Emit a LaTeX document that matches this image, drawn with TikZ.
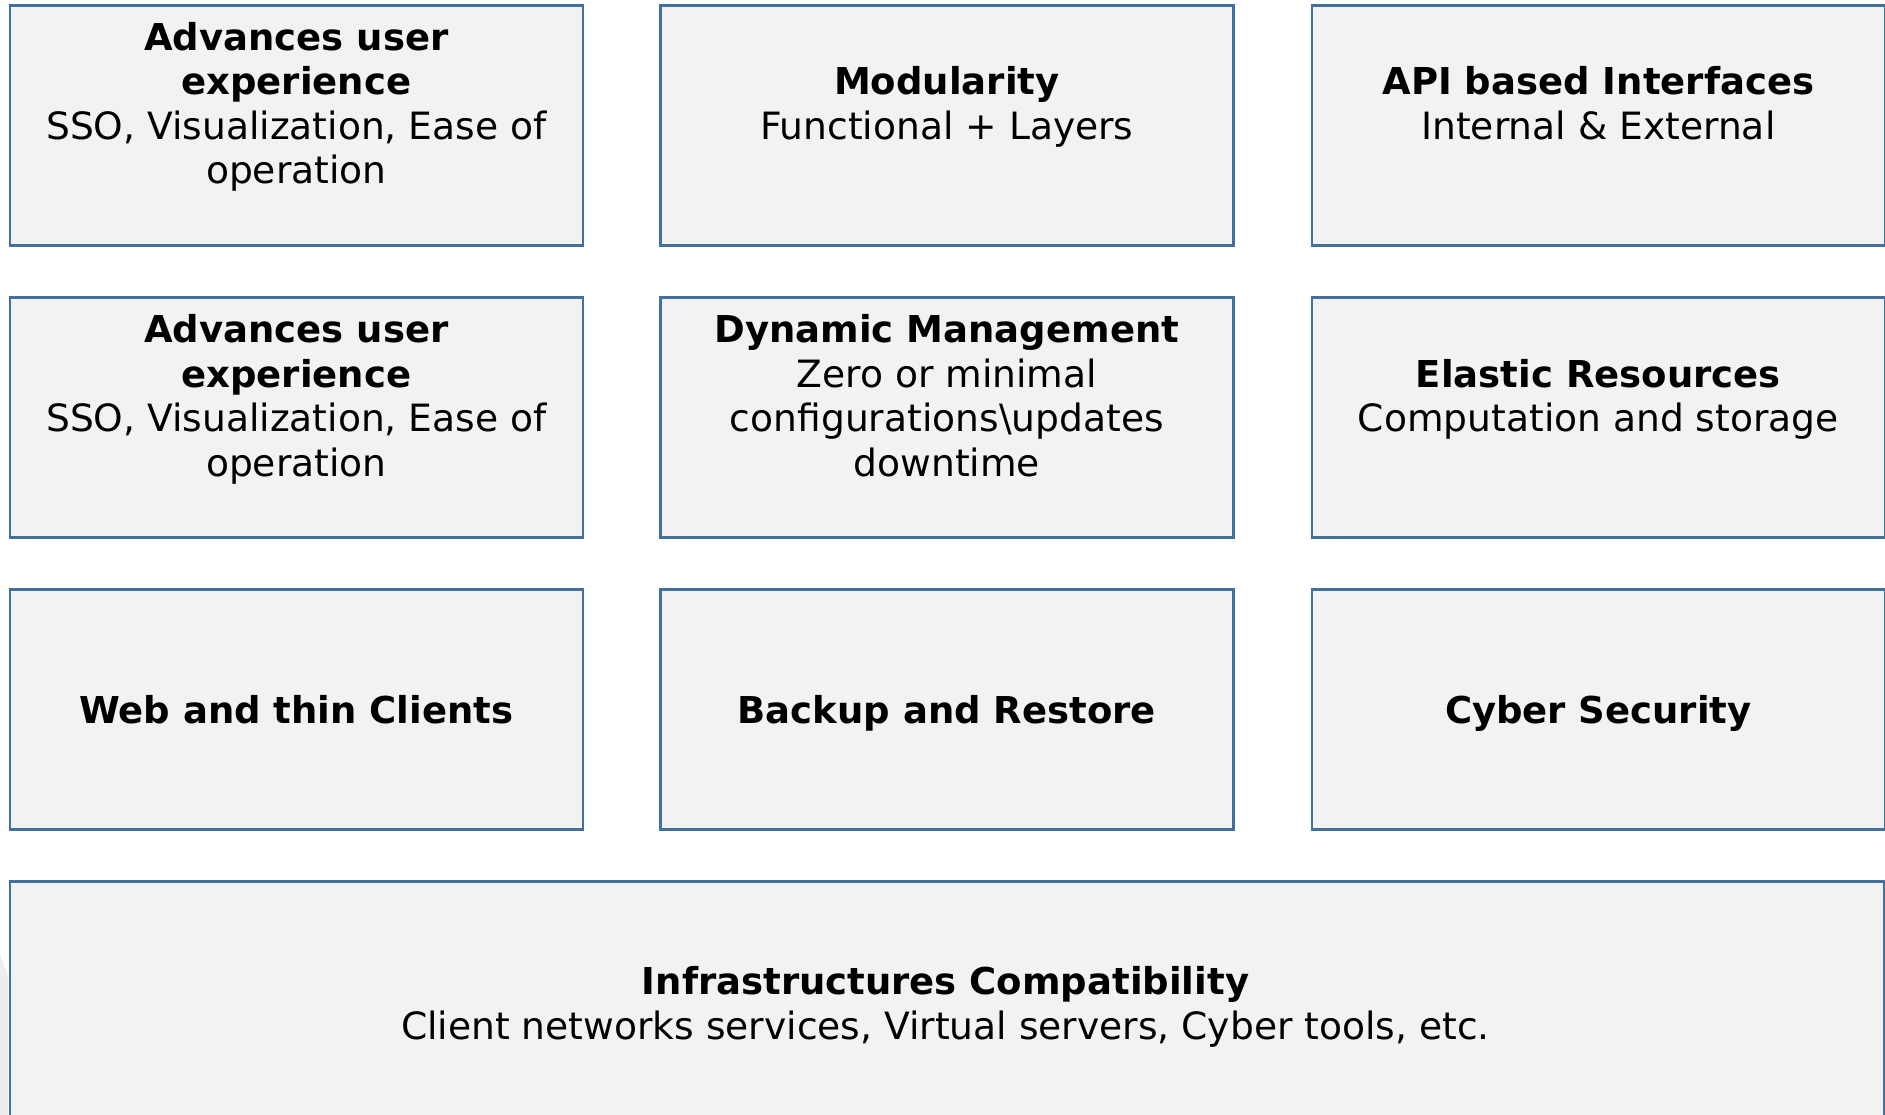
\documentclass[tikz,border=0pt]{standalone}
\usepackage{fontspec}
\setmainfont{DejaVu Sans}
\definecolor{boxblue}{HTML}{41719C}
\definecolor{boxfill}{HTML}{F2F2F2}
\newcommand\hdln[1]{{\fontsize{37}{44.5}\selectfont\bfseries #1\strut}}
\newcommand\rgln[1]{{\fontsize{37.6}{44.5}\selectfont #1\strut}}
\tikzset{
  cell/.style={draw=boxblue, fill=boxfill, line width=2.7pt, minimum width=573pt, minimum height=240pt, inner sep=0pt, anchor=north west},
  wide/.style={cell, minimum width=1874pt, minimum height=241pt},
  txt/.style={align=center, font=\fontsize{37}{44.5}\selectfont, inner sep=0pt, text=black}
}
\begin{document}
\begin{tikzpicture}[x=1pt,y=-1pt]
\clip (0,0) rectangle (1885,1115);
\fill[white] (0,0) rectangle (1885,1115);
% faint shade at bottom left
\fill[black!7] (0,955) -- (8,975) -- (8,1115) -- (0,1115) -- cycle;
% boxes
\node[cell] (b11) at (8.5,4) {};
\node[cell] (b12) at (659,4) {};
\node[cell] (b13) at (1310.5,4) {};
\node[cell] (b21) at (8.5,296) {};
\node[cell] (b22) at (659,296) {};
\node[cell] (b23) at (1310.5,296) {};
\node[cell] (b31) at (8.5,588) {};
\node[cell] (b32) at (659,588) {};
\node[cell] (b33) at (1310.5,588) {};
\node[wide] (b4) at (8.5,880) {};
% texts
\node[txt, yshift=17pt] (t11) at (b11.center) {\hdln{Advances user}\\\hdln{experience}\\\rgln{SSO, Visualization, Ease of}\\\rgln{operation}};
\node[txt, yshift=17pt] (t12) at (b12.center) {\hdln{Modularity}\\\rgln{Functional + Layers}};
\node[txt, yshift=17pt] (t13) at (b13.center) {\hdln{API based Interfaces}\\\rgln{Internal \& External}};
\node[txt, yshift=17pt] (t21) at (b21.center) {\hdln{Advances user}\\\hdln{experience}\\\rgln{SSO, Visualization, Ease of}\\\rgln{operation}};
\node[txt, yshift=17pt] (t22) at (b22.center) {\hdln{Dynamic Management}\\\rgln{Zero or minimal}\\\rgln{configurations\textbackslash updates}\\\rgln{downtime}};
\node[txt, yshift=17pt] (t23) at (b23.center) {\hdln{Elastic Resources}\\\rgln{Computation and storage}};
\node[txt, yshift=-5pt] (t31) at (b31.center) {\hdln{Web and thin Clients}};
\node[txt, yshift=-5pt] (t32) at (b32.center) {\hdln{Backup and Restore}};
\node[txt, yshift=-5pt] (t33) at (b33.center) {\hdln{Cyber Security}};
\node[txt] (t4) at (945.5,1008) {\hdln{Infrastructures Compatibility}\\\rgln{Client networks services, Virtual servers, Cyber tools, etc.}};
\end{tikzpicture}
\end{document}
